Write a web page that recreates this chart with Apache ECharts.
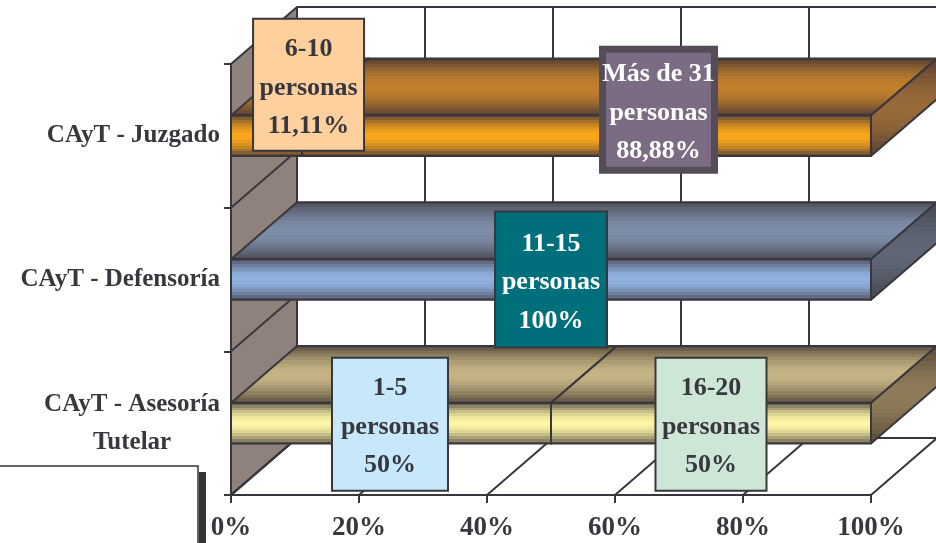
<!DOCTYPE html>
<html>
<head>
<meta charset="utf-8">
<style>html,body{margin:0;padding:0;background:#fff}#c{width:936px;height:543px}</style>
<script src="https://cdn.jsdelivr.net/npm/echarts@6/dist/echarts.min.js"></script>
</head>
<body>
<div id="c"></div>
<script>
// ---- data ----
const categories = ['CAyT - Juzgado', 'CAyT - Defensoría', 'CAyT - Asesoría\nTutelar'];
const juzgadoShares = [11.11, 88.88];
const defensoriaShares = [100];
const asesoriaShares = [50, 50];
const juzgadoGroups = ['6-10', 'Más de 31'];
const defensoriaGroups = ['11-15'];
const asesoriaGroups = ['1-5', '16-20'];
const percentTicks = [0, 20, 40, 60, 80, 100];

// ---- look ----
const INK = '#37373d', WALL = '#8f817c';
const DX = 66, DY = 57;
const FONT = 'Liberation Serif, Times New Roman, serif';
const barLook = [
  {front:['#644a34','#f9a519'], top:['#5a4234','#c17f2c'], side:['#5a4032','#976a3a']},
  {front:['#55566a','#8fb2e0'], top:['#4d4e58','#7d8da8'], side:['#44454f','#5f6675']},
  {front:['#6b6250','#fdf6a6'], top:['#5a4e3e','#c5b484'], side:['#574b3a','#8e7b58']}
];
const boxLook = {
  '6-10':      {dx:42,  dy:-51, w:111, h:132, fill:'#fdd09e', stroke:INK, sw:2, text:INK},
  'Más de 31': {dx:72,  dy:-26, w:112, h:121, fill:'#7b6c84', stroke:'#544c57', sw:7, text:'#fff'},
  '11-15':     {dx:0,   dy:0,   w:112, h:136, fill:'#006f7c', stroke:INK, sw:2, text:'#fff'},
  '1-5':       {dx:-1,  dy:1,   w:116, h:133, fill:'#c6e8fa', stroke:INK, sw:2, text:INK},
  '16-20':     {dx:0,   dy:1,   w:111, h:133, fill:'#cde6d6', stroke:INK, sw:2, text:INK}
};

function mix(a, b, t) {
  const p = c => [1,3,5].map(i => parseInt(c.substr(i,2),16));
  const A = p(a), B = p(b);
  return 'rgb(' + A.map((v,i) => Math.round(v + (B[i]-v)*t)).join(',') + ')';
}
function bands(edge, mid, n) {
  const stops = [], total = 2*n - 1;
  for (let i = 0; i < total; i++) {
    const t = Math.sin((1 - Math.abs(i - (n-1)) / (n-1)) * Math.PI / 2);
    const c = mix(edge, mid, t);
    stops.push({offset:i/total, color:c}, {offset:(i+1)/total, color:c});
  }
  return new echarts.graphic.LinearGradient(0,0,0,1,stops);
}

// ---- rows drawn through the axes ----
const shareSets = [juzgadoShares, defensoriaShares, asesoriaShares];
const groupSets = [juzgadoGroups, defensoriaGroups, asesoriaGroups];
const segments = [];
shareSets.forEach((shares, cat) => {
  let from = 0;
  shares.forEach((v, i) => {
    segments.push({value:[from, from + v, cat, i]});
    from += v;
  });
});

function poly(points, fill) {
  return {type:'polygon', shape:{points}, style:{fill, stroke:INK, lineWidth:2, lineJoin:'round'}};
}
function line(x1,y1,x2,y2) {
  return {type:'line', shape:{x1,y1,x2,y2}, style:{stroke:INK, lineWidth:2, fill:null}};
}

function renderFrame(params, api) {
  const r = params.coordSys;
  const top = r.y, bot = r.y + r.height, kids = [];
  kids.push(poly([[r.x,top],[r.x+DX,top-DY],[r.x+DX,bot-DY],[r.x,bot]], WALL));
  kids.push(line(r.x+DX, top-DY, r.x+r.width+DX, top-DY));
  kids.push(line(r.x+DX, bot-DY, r.x+r.width+DX, bot-DY));
  percentTicks.forEach(t => {
    const x = api.coord([t, 0])[0];
    kids.push(line(x+DX, top-DY, x+DX, bot-DY));
    kids.push(line(x, bot, x+DX, bot-DY));
  });
  categories.forEach((c, i) => {
    const y = api.coord([0, i])[1] + api.size([0,1])[1]/2;
    kids.push(line(r.x, y, r.x+DX, y-DY));
  });
  return {type:'group', children:kids};
}

function renderSegment(params, api) {
  const cat = api.value(2), look = barLook[cat];
  const a = api.coord([api.value(0), cat]), b = api.coord([api.value(1), cat]);
  const h = api.size([0,1])[1] * 0.282;
  const t = a[1] - h/2, d = a[1] + h/2, x0 = a[0], x1 = b[0];
  return {type:'group', children:[
    poly([[x0,t],[x0+DX,t-DY],[x1+DX,t-DY],[x1,t]], bands(look.top[0], look.top[1], 10)),
    poly([[x1,t],[x1+DX,t-DY],[x1+DX,d-DY],[x1,d]], bands(look.side[0], look.side[1], 10)),
    poly([[x0,t],[x1,t],[x1,d],[x0,d]], bands(look.front[0], look.front[1], 8))
  ]};
}

function renderBox(params, api) {
  const cat = api.value(2), i = api.value(3);
  const from = api.value(0), to = api.value(1);
  const share = shareSets[cat][i], group = groupSets[cat][i], b = boxLook[group];
  const p = api.coord([(from + to) / 2, cat]);
  const cx = p[0] + b.dx, cy = p[1] + b.dy;
  return {type:'group', children:[
    {type:'rect', shape:{x:cx-b.w/2, y:cy-b.h/2, width:b.w, height:b.h},
     style:{fill:b.fill, stroke:b.stroke, lineWidth:b.sw}},
    {type:'text', x:cx, y:cy+3, style:{
      text: group + '\npersonas\n' + String(share).replace('.', ',') + '%',
      fill:b.text, font:'bold 26px ' + FONT, lineHeight:38.5,
      align:'center', verticalAlign:'middle'}}
  ]};
}

const chart = echarts.init(document.getElementById('c'), null, {renderer:'canvas'});
chart.setOption({
  animation:false,
  backgroundColor:'#fff',
  grid:{left:231, right:65, top:64, bottom:48, containLabel:false, outerBoundsMode:'none'},
  xAxis:{
    type:'value', min:0, max:100, interval:20, z:10,
    axisLine:{show:true, lineStyle:{color:INK, width:2}},
    axisTick:{show:true, length:8, lineStyle:{color:INK, width:2}},
    splitLine:{show:false},
    axisLabel:{formatter:'{value}%', color:INK, fontFamily:FONT, fontWeight:'bold', fontSize:27, margin:20, hideOverlap:false}
  },
  yAxis:{
    type:'category', inverse:true, data:categories, z:10,
    axisLine:{show:true, onZero:false, lineStyle:{color:INK, width:2}},
    axisTick:{show:true, length:7, alignWithLabel:false, lineStyle:{color:INK, width:2}},
    splitLine:{show:false},
    axisLabel:{
      color:INK, interval:0, margin:11, lineHeight:38,
      formatter:v => v.split('\n').map(s => '{c|' + s + '}').join('\n'),
      rich:{c:{align:'center', color:INK, fontFamily:FONT, fontWeight:'bold', fontSize:25, lineHeight:38}}
    }
  },
  graphic:[
    {type:'rect', z:30, shape:{x:199, y:472, width:7, height:80}, style:{fill:'#333338'}},
    {type:'rect', z:31, shape:{x:-3, y:466, width:201, height:90}, style:{fill:'#fff', stroke:'#333338', lineWidth:1.5}}
  ],
  series:[
    {type:'custom', name:'marco', z:1, silent:true, clip:false, coordinateSystem:'cartesian2d',
     data:[[0,0]], encode:{x:0,y:1}, renderItem:renderFrame},
    {type:'custom', name:'barras', z:2, silent:true, clip:false, coordinateSystem:'cartesian2d',
     data:segments, encode:{x:[0,1], y:2}, renderItem:renderSegment},
    {type:'custom', name:'etiquetas', z:20, silent:true, clip:false, coordinateSystem:'cartesian2d',
     data:segments, encode:{x:[0,1], y:2}, renderItem:renderBox}
  ]
});
</script>
</body>
</html>
